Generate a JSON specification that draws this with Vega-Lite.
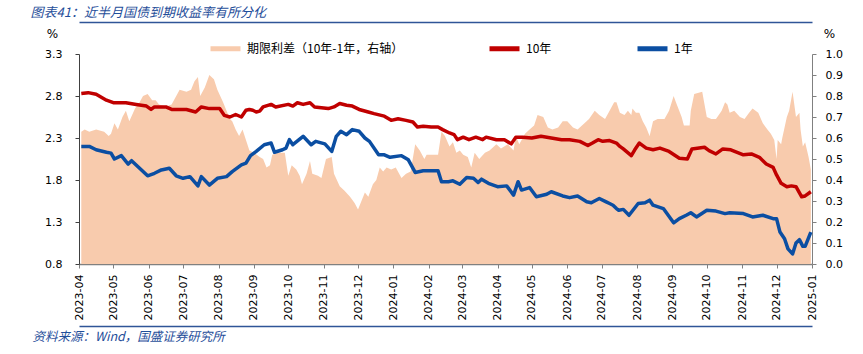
{
  "$schema": "https://vega.github.io/schema/vega-lite/v6.json",
  "width": 733,
  "height": 210,
  "autosize": {"type": "none"},
  "padding": {"left": 79, "top": 54, "right": 51, "bottom": 90},
  "background": "white",
  "config": {
    "view": {"stroke": null},
    "font": "DejaVu Sans",
    "axis": {"grid": false, "labelFont": "DejaVu Sans", "labelFontSize": 11, "labelColor": "#000000", "domainColor": "#595959", "tickColor": "#595959", "titleFontWeight": "normal"}
  },
  "datasets": {
    "spread": [
      {"date": "2023-04-03", "value": 0.63}, {"date": "2023-04-06", "value": 0.64}, {"date": "2023-04-10", "value": 0.63}, {"date": "2023-04-16", "value": 0.64}, {"date": "2023-04-23", "value": 0.63}, {"date": "2023-04-27", "value": 0.61}, {"date": "2023-04-29", "value": 0.62},
      {"date": "2023-05-02", "value": 0.67}, {"date": "2023-05-05", "value": 0.64}, {"date": "2023-05-09", "value": 0.70}, {"date": "2023-05-12", "value": 0.73}, {"date": "2023-05-15", "value": 0.68}, {"date": "2023-05-20", "value": 0.74}, {"date": "2023-05-24", "value": 0.77}, {"date": "2023-05-27", "value": 0.80}, {"date": "2023-05-31", "value": 0.81},
      {"date": "2023-06-04", "value": 0.78}, {"date": "2023-06-07", "value": 0.78}, {"date": "2023-06-10", "value": 0.76}, {"date": "2023-06-16", "value": 0.75}, {"date": "2023-06-21", "value": 0.76}, {"date": "2023-06-23", "value": 0.78}, {"date": "2023-06-28", "value": 0.83},
      {"date": "2023-07-04", "value": 0.82}, {"date": "2023-07-08", "value": 0.83}, {"date": "2023-07-11", "value": 0.87}, {"date": "2023-07-14", "value": 0.89}, {"date": "2023-07-16", "value": 0.80}, {"date": "2023-07-20", "value": 0.84}, {"date": "2023-07-24", "value": 0.90}, {"date": "2023-07-28", "value": 0.88}, {"date": "2023-07-31", "value": 0.83},
      {"date": "2023-08-05", "value": 0.77}, {"date": "2023-08-08", "value": 0.73}, {"date": "2023-08-11", "value": 0.69}, {"date": "2023-08-13", "value": 0.68}, {"date": "2023-08-16", "value": 0.64}, {"date": "2023-08-19", "value": 0.61}, {"date": "2023-08-22", "value": 0.64}, {"date": "2023-08-25", "value": 0.59}, {"date": "2023-08-28", "value": 0.54},
      {"date": "2023-09-01", "value": 0.53}, {"date": "2023-09-06", "value": 0.51}, {"date": "2023-09-09", "value": 0.50}, {"date": "2023-09-12", "value": 0.46}, {"date": "2023-09-15", "value": 0.47}, {"date": "2023-09-17", "value": 0.52}, {"date": "2023-09-22", "value": 0.53}, {"date": "2023-09-28", "value": 0.53},
      {"date": "2023-10-01", "value": 0.42}, {"date": "2023-10-04", "value": 0.47}, {"date": "2023-10-08", "value": 0.45}, {"date": "2023-10-11", "value": 0.42}, {"date": "2023-10-13", "value": 0.38}, {"date": "2023-10-17", "value": 0.43}, {"date": "2023-10-20", "value": 0.49}, {"date": "2023-10-22", "value": 0.43}, {"date": "2023-10-27", "value": 0.42}, {"date": "2023-10-30", "value": 0.41},
      {"date": "2023-11-03", "value": 0.50}, {"date": "2023-11-08", "value": 0.51}, {"date": "2023-11-10", "value": 0.43}, {"date": "2023-11-15", "value": 0.37}, {"date": "2023-11-19", "value": 0.35}, {"date": "2023-11-24", "value": 0.32}, {"date": "2023-11-28", "value": 0.29},
      {"date": "2023-12-01", "value": 0.26}, {"date": "2023-12-04", "value": 0.30}, {"date": "2023-12-07", "value": 0.34}, {"date": "2023-12-10", "value": 0.32}, {"date": "2023-12-14", "value": 0.38}, {"date": "2023-12-17", "value": 0.40}, {"date": "2023-12-20", "value": 0.46}, {"date": "2023-12-23", "value": 0.44}, {"date": "2023-12-26", "value": 0.46}, {"date": "2023-12-30", "value": 0.45},
      {"date": "2024-01-03", "value": 0.46}, {"date": "2024-01-08", "value": 0.41}, {"date": "2024-01-12", "value": 0.43}, {"date": "2024-01-16", "value": 0.44}, {"date": "2024-01-20", "value": 0.57}, {"date": "2024-01-24", "value": 0.54}, {"date": "2024-01-28", "value": 0.50}, {"date": "2024-01-30", "value": 0.52},
      {"date": "2024-02-04", "value": 0.52}, {"date": "2024-02-09", "value": 0.52}, {"date": "2024-02-12", "value": 0.63}, {"date": "2024-02-15", "value": 0.61}, {"date": "2024-02-19", "value": 0.56}, {"date": "2024-02-22", "value": 0.58}, {"date": "2024-02-25", "value": 0.53}, {"date": "2024-02-28", "value": 0.54},
      {"date": "2024-03-02", "value": 0.52}, {"date": "2024-03-06", "value": 0.51}, {"date": "2024-03-09", "value": 0.46}, {"date": "2024-03-12", "value": 0.53}, {"date": "2024-03-16", "value": 0.50}, {"date": "2024-03-21", "value": 0.53}, {"date": "2024-03-25", "value": 0.54}, {"date": "2024-03-31", "value": 0.57},
      {"date": "2024-04-04", "value": 0.55}, {"date": "2024-04-10", "value": 0.57}, {"date": "2024-04-15", "value": 0.54}, {"date": "2024-04-17", "value": 0.61}, {"date": "2024-04-20", "value": 0.57}, {"date": "2024-04-25", "value": 0.62}, {"date": "2024-04-29", "value": 0.64},
      {"date": "2024-05-03", "value": 0.66}, {"date": "2024-05-06", "value": 0.71}, {"date": "2024-05-11", "value": 0.70}, {"date": "2024-05-15", "value": 0.65}, {"date": "2024-05-19", "value": 0.64}, {"date": "2024-05-24", "value": 0.65}, {"date": "2024-05-28", "value": 0.68},
      {"date": "2024-06-01", "value": 0.68}, {"date": "2024-06-06", "value": 0.65}, {"date": "2024-06-10", "value": 0.64}, {"date": "2024-06-16", "value": 0.67}, {"date": "2024-06-20", "value": 0.69}, {"date": "2024-06-25", "value": 0.73}, {"date": "2024-06-29", "value": 0.71},
      {"date": "2024-07-04", "value": 0.69}, {"date": "2024-07-08", "value": 0.73}, {"date": "2024-07-12", "value": 0.77}, {"date": "2024-07-14", "value": 0.77}, {"date": "2024-07-17", "value": 0.72}, {"date": "2024-07-21", "value": 0.71}, {"date": "2024-07-24", "value": 0.73}, {"date": "2024-07-27", "value": 0.71}, {"date": "2024-07-28", "value": 0.74}, {"date": "2024-07-31", "value": 0.72},
      {"date": "2024-08-03", "value": 0.72}, {"date": "2024-08-06", "value": 0.68}, {"date": "2024-08-09", "value": 0.65}, {"date": "2024-08-12", "value": 0.61}, {"date": "2024-08-15", "value": 0.68}, {"date": "2024-08-19", "value": 0.69}, {"date": "2024-08-25", "value": 0.69}, {"date": "2024-08-29", "value": 0.73},
      {"date": "2024-09-02", "value": 0.80}, {"date": "2024-09-04", "value": 0.77}, {"date": "2024-09-09", "value": 0.70}, {"date": "2024-09-11", "value": 0.66}, {"date": "2024-09-16", "value": 0.66}, {"date": "2024-09-17", "value": 0.73}, {"date": "2024-09-20", "value": 0.81}, {"date": "2024-09-27", "value": 0.82},
      {"date": "2024-10-01", "value": 0.70}, {"date": "2024-10-05", "value": 0.69}, {"date": "2024-10-09", "value": 0.69}, {"date": "2024-10-14", "value": 0.73}, {"date": "2024-10-17", "value": 0.77}, {"date": "2024-10-19", "value": 0.76}, {"date": "2024-10-21", "value": 0.72}, {"date": "2024-10-25", "value": 0.73}, {"date": "2024-10-30", "value": 0.70},
      {"date": "2024-11-03", "value": 0.69}, {"date": "2024-11-07", "value": 0.72}, {"date": "2024-11-10", "value": 0.74}, {"date": "2024-11-15", "value": 0.72}, {"date": "2024-11-19", "value": 0.67}, {"date": "2024-11-23", "value": 0.64}, {"date": "2024-11-26", "value": 0.62}, {"date": "2024-11-29", "value": 0.59},
      {"date": "2024-12-01", "value": 0.50}, {"date": "2024-12-02", "value": 0.59}, {"date": "2024-12-05", "value": 0.57}, {"date": "2024-12-06", "value": 0.60}, {"date": "2024-12-10", "value": 0.70}, {"date": "2024-12-12", "value": 0.73}, {"date": "2024-12-15", "value": 0.82}, {"date": "2024-12-18", "value": 0.70}, {"date": "2024-12-21", "value": 0.72}, {"date": "2024-12-22", "value": 0.64}, {"date": "2024-12-24", "value": 0.56}, {"date": "2024-12-26", "value": 0.58}, {"date": "2024-12-29", "value": 0.51}, {"date": "2024-12-31", "value": 0.45}
    ],
    "ten": [
      {"date": "2023-04-03", "value": 2.83}, {"date": "2023-04-09", "value": 2.84}, {"date": "2023-04-16", "value": 2.82}, {"date": "2023-04-25", "value": 2.75},
      {"date": "2023-05-01", "value": 2.72}, {"date": "2023-05-12", "value": 2.72}, {"date": "2023-05-21", "value": 2.70}, {"date": "2023-05-30", "value": 2.68},
      {"date": "2023-06-03", "value": 2.64}, {"date": "2023-06-06", "value": 2.67}, {"date": "2023-06-16", "value": 2.67}, {"date": "2023-06-21", "value": 2.64},
      {"date": "2023-07-04", "value": 2.64}, {"date": "2023-07-12", "value": 2.61}, {"date": "2023-07-17", "value": 2.67}, {"date": "2023-07-24", "value": 2.65},
      {"date": "2023-08-02", "value": 2.65}, {"date": "2023-08-06", "value": 2.57}, {"date": "2023-08-11", "value": 2.55}, {"date": "2023-08-16", "value": 2.58}, {"date": "2023-08-21", "value": 2.55}, {"date": "2023-08-25", "value": 2.63}, {"date": "2023-08-28", "value": 2.64}, {"date": "2023-08-31", "value": 2.63},
      {"date": "2023-09-03", "value": 2.61}, {"date": "2023-09-06", "value": 2.62}, {"date": "2023-09-09", "value": 2.67}, {"date": "2023-09-16", "value": 2.70}, {"date": "2023-09-20", "value": 2.67},
      {"date": "2023-10-01", "value": 2.70}, {"date": "2023-10-05", "value": 2.68}, {"date": "2023-10-09", "value": 2.72}, {"date": "2023-10-14", "value": 2.70}, {"date": "2023-10-20", "value": 2.72}, {"date": "2023-10-24", "value": 2.67},
      {"date": "2023-11-05", "value": 2.65}, {"date": "2023-11-10", "value": 2.67}, {"date": "2023-11-15", "value": 2.71}, {"date": "2023-11-21", "value": 2.69}, {"date": "2023-11-26", "value": 2.68},
      {"date": "2023-12-02", "value": 2.64}, {"date": "2023-12-10", "value": 2.61}, {"date": "2023-12-15", "value": 2.59}, {"date": "2023-12-24", "value": 2.56}, {"date": "2023-12-30", "value": 2.51},
      {"date": "2024-01-05", "value": 2.53}, {"date": "2024-01-12", "value": 2.51}, {"date": "2024-01-18", "value": 2.49}, {"date": "2024-01-22", "value": 2.43}, {"date": "2024-01-27", "value": 2.44},
      {"date": "2024-02-03", "value": 2.43}, {"date": "2024-02-09", "value": 2.43}, {"date": "2024-02-13", "value": 2.40}, {"date": "2024-02-19", "value": 2.36}, {"date": "2024-02-23", "value": 2.34}, {"date": "2024-02-26", "value": 2.28},
      {"date": "2024-03-02", "value": 2.31}, {"date": "2024-03-07", "value": 2.28}, {"date": "2024-03-13", "value": 2.31}, {"date": "2024-03-19", "value": 2.28}, {"date": "2024-03-22", "value": 2.31}, {"date": "2024-03-31", "value": 2.28},
      {"date": "2024-04-07", "value": 2.28}, {"date": "2024-04-13", "value": 2.23}, {"date": "2024-04-17", "value": 2.31}, {"date": "2024-04-23", "value": 2.31},
      {"date": "2024-05-01", "value": 2.30}, {"date": "2024-05-09", "value": 2.32}, {"date": "2024-05-18", "value": 2.30}, {"date": "2024-05-27", "value": 2.28},
      {"date": "2024-06-03", "value": 2.28}, {"date": "2024-06-12", "value": 2.26}, {"date": "2024-06-19", "value": 2.21}, {"date": "2024-06-23", "value": 2.24}, {"date": "2024-06-28", "value": 2.28},
      {"date": "2024-07-02", "value": 2.26}, {"date": "2024-07-08", "value": 2.27}, {"date": "2024-07-14", "value": 2.24}, {"date": "2024-07-17", "value": 2.20}, {"date": "2024-07-20", "value": 2.17}, {"date": "2024-07-27", "value": 2.09}, {"date": "2024-07-30", "value": 2.16},
      {"date": "2024-08-03", "value": 2.24}, {"date": "2024-08-09", "value": 2.18}, {"date": "2024-08-15", "value": 2.16}, {"date": "2024-08-21", "value": 2.18}, {"date": "2024-08-29", "value": 2.14},
      {"date": "2024-09-07", "value": 2.06}, {"date": "2024-09-14", "value": 2.05}, {"date": "2024-09-18", "value": 2.17}, {"date": "2024-09-29", "value": 2.19},
      {"date": "2024-10-03", "value": 2.15}, {"date": "2024-10-09", "value": 2.11}, {"date": "2024-10-15", "value": 2.17}, {"date": "2024-10-22", "value": 2.16},
      {"date": "2024-11-02", "value": 2.10}, {"date": "2024-11-09", "value": 2.11}, {"date": "2024-11-16", "value": 2.07}, {"date": "2024-11-22", "value": 1.99}, {"date": "2024-11-28", "value": 1.95},
      {"date": "2024-12-01", "value": 1.86}, {"date": "2024-12-05", "value": 1.76}, {"date": "2024-12-10", "value": 1.72}, {"date": "2024-12-14", "value": 1.73}, {"date": "2024-12-18", "value": 1.72}, {"date": "2024-12-23", "value": 1.60}, {"date": "2024-12-26", "value": 1.61}, {"date": "2024-12-31", "value": 1.66}
    ],
    "one": [
      {"date": "2023-04-03", "value": 2.20}, {"date": "2023-04-10", "value": 2.20}, {"date": "2023-04-16", "value": 2.16}, {"date": "2023-04-25", "value": 2.13}, {"date": "2023-04-29", "value": 2.12},
      {"date": "2023-05-02", "value": 2.05}, {"date": "2023-05-08", "value": 2.09}, {"date": "2023-05-14", "value": 1.99}, {"date": "2023-05-17", "value": 2.03}, {"date": "2023-05-24", "value": 1.94}, {"date": "2023-05-31", "value": 1.85},
      {"date": "2023-06-06", "value": 1.88}, {"date": "2023-06-12", "value": 1.92}, {"date": "2023-06-19", "value": 1.94}, {"date": "2023-06-25", "value": 1.85},
      {"date": "2023-07-01", "value": 1.82}, {"date": "2023-07-07", "value": 1.84}, {"date": "2023-07-14", "value": 1.73}, {"date": "2023-07-17", "value": 1.84}, {"date": "2023-07-24", "value": 1.74}, {"date": "2023-07-31", "value": 1.82},
      {"date": "2023-08-08", "value": 1.84}, {"date": "2023-08-13", "value": 1.90}, {"date": "2023-08-21", "value": 1.98}, {"date": "2023-08-25", "value": 2.00}, {"date": "2023-08-29", "value": 2.09},
      {"date": "2023-09-03", "value": 2.14}, {"date": "2023-09-10", "value": 2.22}, {"date": "2023-09-16", "value": 2.24}, {"date": "2023-09-19", "value": 2.13}, {"date": "2023-09-26", "value": 2.16}, {"date": "2023-09-29", "value": 2.18},
      {"date": "2023-10-02", "value": 2.28}, {"date": "2023-10-05", "value": 2.22}, {"date": "2023-10-14", "value": 2.32}, {"date": "2023-10-21", "value": 2.22}, {"date": "2023-10-25", "value": 2.26},
      {"date": "2023-11-02", "value": 2.23}, {"date": "2023-11-08", "value": 2.14}, {"date": "2023-11-12", "value": 2.32}, {"date": "2023-11-16", "value": 2.38}, {"date": "2023-11-21", "value": 2.34}, {"date": "2023-11-26", "value": 2.40},
      {"date": "2023-12-02", "value": 2.38}, {"date": "2023-12-07", "value": 2.30}, {"date": "2023-12-11", "value": 2.26}, {"date": "2023-12-19", "value": 2.10}, {"date": "2023-12-24", "value": 2.10}, {"date": "2023-12-29", "value": 2.07},
      {"date": "2024-01-08", "value": 2.09}, {"date": "2024-01-14", "value": 2.04}, {"date": "2024-01-20", "value": 1.89}, {"date": "2024-01-27", "value": 1.91},
      {"date": "2024-02-03", "value": 1.91}, {"date": "2024-02-09", "value": 1.91}, {"date": "2024-02-12", "value": 1.78}, {"date": "2024-02-18", "value": 1.78}, {"date": "2024-02-22", "value": 1.79}, {"date": "2024-02-28", "value": 1.75},
      {"date": "2024-03-05", "value": 1.83}, {"date": "2024-03-11", "value": 1.82}, {"date": "2024-03-15", "value": 1.77}, {"date": "2024-03-18", "value": 1.81}, {"date": "2024-03-24", "value": 1.76},
      {"date": "2024-04-01", "value": 1.72}, {"date": "2024-04-09", "value": 1.73}, {"date": "2024-04-15", "value": 1.62}, {"date": "2024-04-19", "value": 1.78}, {"date": "2024-04-22", "value": 1.68}, {"date": "2024-04-29", "value": 1.71},
      {"date": "2024-05-05", "value": 1.60}, {"date": "2024-05-14", "value": 1.63}, {"date": "2024-05-18", "value": 1.66}, {"date": "2024-05-28", "value": 1.61},
      {"date": "2024-06-03", "value": 1.59}, {"date": "2024-06-10", "value": 1.61}, {"date": "2024-06-18", "value": 1.54}, {"date": "2024-06-22", "value": 1.53}, {"date": "2024-06-29", "value": 1.58},
      {"date": "2024-07-05", "value": 1.54}, {"date": "2024-07-08", "value": 1.52}, {"date": "2024-07-11", "value": 1.50}, {"date": "2024-07-14", "value": 1.46}, {"date": "2024-07-16", "value": 1.44}, {"date": "2024-07-20", "value": 1.45}, {"date": "2024-07-25", "value": 1.38},
      {"date": "2024-08-02", "value": 1.52}, {"date": "2024-08-08", "value": 1.53}, {"date": "2024-08-12", "value": 1.56}, {"date": "2024-08-15", "value": 1.50}, {"date": "2024-08-24", "value": 1.46},
      {"date": "2024-09-02", "value": 1.29}, {"date": "2024-09-07", "value": 1.34}, {"date": "2024-09-13", "value": 1.38}, {"date": "2024-09-17", "value": 1.41}, {"date": "2024-09-22", "value": 1.36},
      {"date": "2024-10-01", "value": 1.44}, {"date": "2024-10-09", "value": 1.43}, {"date": "2024-10-17", "value": 1.40}, {"date": "2024-10-21", "value": 1.41},
      {"date": "2024-11-02", "value": 1.40}, {"date": "2024-11-10", "value": 1.36}, {"date": "2024-11-19", "value": 1.38}, {"date": "2024-11-28", "value": 1.34},
      {"date": "2024-12-01", "value": 1.34}, {"date": "2024-12-04", "value": 1.18}, {"date": "2024-12-08", "value": 1.10}, {"date": "2024-12-11", "value": 0.98}, {"date": "2024-12-15", "value": 0.92}, {"date": "2024-12-18", "value": 1.05}, {"date": "2024-12-21", "value": 1.09}, {"date": "2024-12-24", "value": 1.01}, {"date": "2024-12-26", "value": 1.01}, {"date": "2024-12-31", "value": 1.18}
    ]
  },
  "layer": [
    {
      "data": {"name": "spread"},
      "mark": {"type": "area", "opacity": 1, "interpolate": "linear"},
      "encoding": {
        "x": {
          "field": "date", "type": "temporal",
          "scale": {"type": "utc", "domain": [{"year": 2023, "month": 4, "date": 1, "utc": true}, {"year": 2025, "month": 1, "date": 1, "utc": true}], "nice": false},
          "axis": {"orient": "bottom", "format": "%Y-%m", "labelAngle": 270, "tickCount": {"interval": "month", "step": 1}, "tickSize": 4, "labelPadding": 6, "domainColor": "#808080", "domainWidth": 1.5, "tickColor": "#808080", "title": null, "labelFlush": false, "labelOverlap": false, "labelBound": false}
        },
        "y": {
          "field": "value", "type": "quantitative",
          "scale": {"domain": [0, 1], "nice": false},
          "axis": {"orient": "right", "values": [0, 0.1, 0.2, 0.3, 0.4, 0.5, 0.6, 0.7, 0.8, 0.9, 1.0], "format": ".1f", "tickSize": 4, "labelPadding": 9, "domainColor": "#808080", "tickColor": "#808080", "title": "%", "titleAngle": 0, "titleX": 17, "titleY": -21, "titleAlign": "center", "titleBaseline": "middle", "titleFont": "DejaVu Sans", "titleFontSize": 12, "titleColor": "#000000"}
        },
        "color": {
          "datum": "期限利差（10年-1年，右轴）",
          "scale": {"domain": ["期限利差（10年-1年，右轴）", "10年", "1年"], "range": ["#F8CBAD", "#C00000", "#0B4EA2"]},
          "legend": {"orient": "none", "legendX": 129, "legendY": -23, "direction": "horizontal", "symbolType": "stroke", "symbolSize": 900, "symbolStrokeWidth": 5, "labelFont": "Noto Sans CJK SC", "labelFontSize": 12, "labelColor": "#000000", "columnPadding": 75, "labelOffset": 4, "title": null, "labelLimit": 400}
        }
      }
    },
    {
      "layer": [
        {
          "data": {"name": "ten"},
          "mark": {"type": "line", "strokeWidth": 3.5, "strokeJoin": "round"},
          "encoding": {
            "x": {
              "field": "date", "type": "temporal",
              "scale": {"type": "utc", "domain": [{"year": 2023, "month": 4, "date": 1, "utc": true}, {"year": 2025, "month": 1, "date": 1, "utc": true}], "nice": false},
              "axis": {"orient": "top", "offset": 32, "labels": false, "ticks": false, "domainColor": "#2F5597", "domainWidth": 1.5, "title": "图表41：近半月国债到期收益率有所分化", "titleX": -49, "titleY": -10, "titleAngle": 0, "titleAlign": "left", "titleBaseline": "middle", "titleFont": "Noto Sans CJK SC", "titleFontSize": 13, "titleFontStyle": "italic", "titleFontWeight": "normal", "titleColor": "#1F4E9A"}
            },
            "y": {
              "field": "value", "type": "quantitative",
              "scale": {"domain": [0.8, 3.3], "nice": false, "zero": false},
              "axis": {"orient": "left", "values": [0.8, 1.3, 1.8, 2.3, 2.8, 3.3], "format": ".1f", "tickSize": 4, "labelPadding": 13, "domainColor": "#404040", "tickColor": "#404040", "title": "%", "titleAngle": 0, "titleX": -27, "titleY": -21, "titleAlign": "center", "titleBaseline": "middle", "titleFont": "DejaVu Sans", "titleFontSize": 12, "titleColor": "#000000"}
            },
            "color": {"datum": "10年"}
          }
        },
        {
          "data": {"name": "one"},
          "mark": {"type": "line", "strokeWidth": 3.5, "strokeJoin": "round"},
          "encoding": {
            "x": {
              "field": "date", "type": "temporal",
              "scale": {"type": "utc", "domain": [{"year": 2023, "month": 4, "date": 1, "utc": true}, {"year": 2025, "month": 1, "date": 1, "utc": true}], "nice": false},
              "axis": {"orient": "bottom", "offset": 62, "labels": false, "ticks": false, "domainColor": "#2F5597", "domainWidth": 1.5, "title": "资料来源：Wind，国盛证券研究所", "titleX": -47, "titleY": 10, "titleAngle": 0, "titleAlign": "left", "titleBaseline": "middle", "titleFont": "Noto Sans CJK SC", "titleFontSize": 12.5, "titleFontStyle": "italic", "titleFontWeight": "normal", "titleColor": "#1F4E9A"}
            },
            "y": {"field": "value", "type": "quantitative"},
            "color": {"datum": "1年"}
          }
        }
      ],
      "resolve": {"axis": {"x": "independent"}}
    }
  ],
  "resolve": {"scale": {"y": "independent"}, "axis": {"x": "independent"}}
}
